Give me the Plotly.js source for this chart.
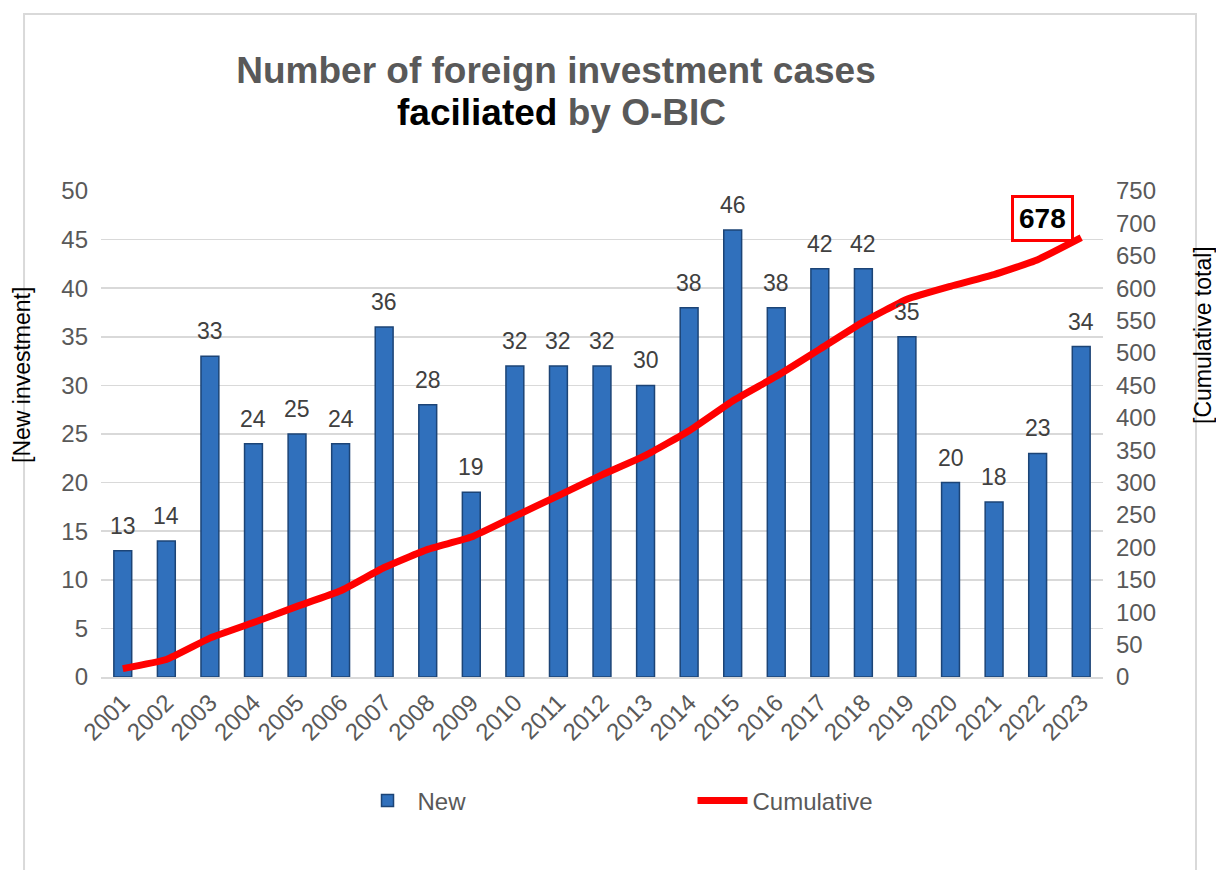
<!DOCTYPE html>
<html>
<head>
<meta charset="utf-8">
<script src="https://cdn.plot.ly/plotly-3.0.1.min.js"></script>
<style>html,body{margin:0;padding:0;background:#fff;}#chart{width:1216px;height:870px;}</style>
</head>
<body>
<div id="chart"></div>
<script>
const years = ['2001','2002','2003','2004','2005','2006','2007','2008','2009','2010','2011','2012','2013','2014','2015','2016','2017','2018','2019','2020','2021','2022','2023'];
const newCases = [13,14,33,24,25,24,36,28,19,32,32,32,30,38,46,38,42,42,35,20,18,23,34];
const cumulative = [13,27,60,84,109,133,169,197,216,248,280,312,342,380,426,464,506,548,583,603,621,644,678];
const finalLabel = '678';

const FONT = 'Liberation Sans, Arial, sans-serif';

const bars = {
  type: 'bar', x: years, y: newCases, name: 'New',
  width: 0.41,
  marker: {color: '#3070BC', line: {color: '#1C4476', width: 1.5}},
  hoverinfo: 'x+y'
};
const line = {
  type: 'scatter', mode: 'lines', x: years, y: cumulative, name: 'Cumulative',
  yaxis: 'y2',
  line: {color: '#FF0000', width: 7, shape: 'spline', smoothing: 0.4}
};

const annotations = years.map((yr, i) => ({
  x: i, y: newCases[i], xref: 'x', yref: 'y', text: String(newCases[i]),
  showarrow: false, yanchor: 'bottom', yshift: 10,
  font: {family: FONT, size: 23, color: '#404040'}
}));
annotations.push({
  x: years.length - 2, y: 708, xref: 'x', yref: 'y2', xshift: 5,
  text: '<b>' + finalLabel + '</b>', showarrow: false,
  font: {family: FONT, size: 28, color: '#000'},
  bordercolor: '#FF0000', borderwidth: 3, borderpad: 5, bgcolor: '#fff'
});
annotations.push({
  xref: 'paper', yref: 'paper', x: (22 - 101) / 1002, y: (677 - 375) / 486, textangle: -90,
  xanchor: 'center', yanchor: 'middle',
  text: '[New investment]', showarrow: false,
  font: {family: FONT, size: 23, color: '#000'}
});
annotations.push({
  xref: 'paper', yref: 'paper', x: (1203 - 101) / 1002, y: (677 - 335) / 486, textangle: -90,
  xanchor: 'center', yanchor: 'middle',
  text: '[Cumulative total]', showarrow: false,
  font: {family: FONT, size: 23, color: '#000'}
});
annotations.push({
  xref: 'paper', yref: 'paper', x: (561 - 101) / 1002, y: (677 - 112) / 486,
  xanchor: 'center', yanchor: 'middle', showarrow: false,
  text: '<b><span style="color:#000">faciliated</span> by O-BIC</b>',
  font: {family: FONT, size: 37, color: '#595959'}
});

const layout = {
  width: 1216, height: 870,
  margin: {l: 101, r: 113, t: 191, b: 193},
  paper_bgcolor: '#fff', plot_bgcolor: '#fff',
  font: {family: FONT, color: '#595959'},
  title: {
    text: '<b>Number of foreign investment cases</b>',
    font: {family: FONT, size: 37, color: '#595959'},
    x: 556 / 1216, xref: 'container', xanchor: 'center',
    y: 1 - 70 / 870, yref: 'container', yanchor: 'middle'
  },
  xaxis: {
    type: 'category', tickangle: -45, range: [-0.5, years.length - 0.5],
    tickfont: {family: FONT, size: 24, color: '#595959'},
    showline: true, linecolor: '#D9D9D9', linewidth: 2,
    showgrid: false, ticks: '', fixedrange: true
  },
  yaxis: {
    range: [0, 50], dtick: 5, tick0: 0,
    tickfont: {family: FONT, size: 24, color: '#595959'},
    gridcolor: '#D9D9D9', gridwidth: 1.5, zeroline: false,
    ticks: '', ticklabelstandoff: 12, showline: false
  },
  yaxis2: {
    range: [0, 750], dtick: 50, tick0: 0, overlaying: 'y', side: 'right',
    tickfont: {family: FONT, size: 24, color: '#595959'},
    showgrid: false, zeroline: false, ticks: '', ticklabelstandoff: 12
  },
  showlegend: true,
  legend: {
    orientation: 'h', x: 0.256, xanchor: 'left', y: -0.255, yanchor: 'middle',
    entrywidth: 270, entrywidthmode: 'pixels',
    font: {family: FONT, size: 24, color: '#595959'},
    itemwidth: 50
  },
  annotations: annotations,
  shapes: [{
    type: 'path', xref: 'paper', yref: 'paper',
    path: 'M -0.0768 -0.45 L -0.0768 1.364 L 1.0928 1.364 L 1.0928 -0.45',
    line: {color: '#D9D9D9', width: 2}
  }]
};

Plotly.newPlot('chart', [bars, line], layout, {displayModeBar: false, staticPlot: true});
</script>
</body>
</html>
